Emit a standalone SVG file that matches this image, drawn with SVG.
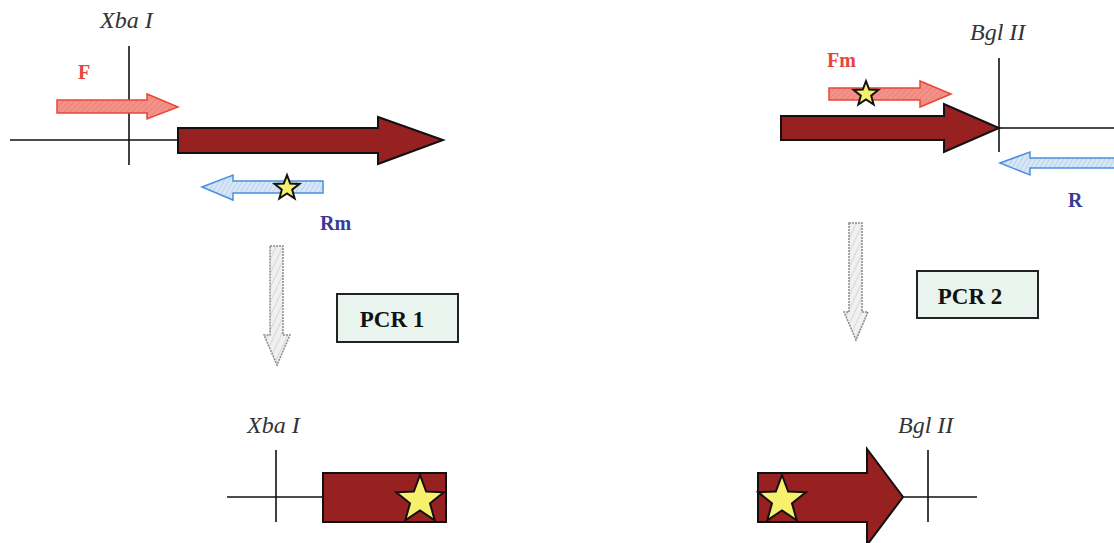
<svg xmlns="http://www.w3.org/2000/svg" width="1114" height="543" viewBox="0 0 1114 543">
<style>
.line{stroke:#111;stroke-width:1.6;fill:none}
.site{font-family:"Liberation Serif",serif;font-style:italic;font-size:24px;fill:#333}
.fwd{font-family:"Liberation Serif",serif;font-weight:bold;font-size:20px;fill:#E8453C}
.rev{font-family:"Liberation Serif",serif;font-weight:bold;font-size:20px;fill:#3A3A98}
.pcr{font-family:"Liberation Serif",serif;font-weight:bold;font-size:23px;fill:#111}
.gene{fill:#972020;stroke:#111;stroke-width:2;stroke-linejoin:miter}
.fprim{fill:url(#hatchRed);stroke:#E8473A;stroke-width:1.5}
.rprim{fill:url(#hatchBlue);stroke:#4A8FE0;stroke-width:1.5}
.down{fill:url(#hatchGrey);stroke:#8A8A8A;stroke-width:1.5;stroke-dasharray:2 1}
.box{fill:#EAF4EE;stroke:#222;stroke-width:2}
.star{fill:#F7F06C;stroke:#111}
</style>
<defs>
<pattern id="hatchRed" width="4" height="4" patternUnits="userSpaceOnUse" patternTransform="rotate(45)">
<rect width="4" height="4" fill="#F2938A"/>
<line x1="0" y1="0" x2="0" y2="4" stroke="#EC7468" stroke-width="1.2"/>
</pattern>
<pattern id="hatchBlue" width="4" height="4" patternUnits="userSpaceOnUse" patternTransform="rotate(30)">
<rect width="4" height="4" fill="#D8E7F6"/>
<line x1="0" y1="0" x2="0" y2="4" stroke="#A4C2E6" stroke-width="1.2"/>
</pattern>
<pattern id="hatchGrey" width="6" height="6" patternUnits="userSpaceOnUse" patternTransform="rotate(25)">
<rect width="6" height="6" fill="#F0F0F0"/>
<line x1="0" y1="0" x2="0" y2="6" stroke="#CFCFCF" stroke-width="1.5"/>
</pattern>
<path id="star" vector-effect="non-scaling-stroke" d="M0,-1 L0.247,-0.34 L0.951,-0.309 L0.4,0.13 L0.588,0.809 L0,0.42 L-0.588,0.809 L-0.4,0.13 L-0.951,-0.309 L-0.247,-0.34 Z"/>
</defs>
<rect width="1114" height="543" fill="#fff"/>

<g id="left-top">
<line class="line" x1="10" y1="140" x2="178" y2="140"/>
<line class="line" x1="129" y1="46" x2="129" y2="165"/>
<text class="site" x="100" y="28">Xba I</text>
</g>
<g id="primer-F">
<polygon class="fprim" points="57,100 147,100 147,94 178,107 147,119 147,113 57,113"/>
<text class="fwd" x="78" y="79">F</text>
</g>
<g id="gene-left">
<polygon class="gene" points="178,128 378,128 378,117 443,140 378,164 378,153 178,153"/>
</g>
<g id="primer-Rm">
<polygon class="rprim" points="202,187 233,175 233,181 323,181 323,193 233,193 233,200"/>
<use href="#star" class="star" stroke-width="2" transform="translate(287,188) scale(13)"/>
<text class="rev" x="320" y="230">Rm</text>
</g>

<g id="right-top">
<line class="line" x1="999" y1="128" x2="1114" y2="128"/>
<line class="line" x1="999" y1="58" x2="999" y2="152"/>
<text class="site" x="970" y="40">Bgl II</text>
</g>
<g id="primer-Fm">
<polygon class="fprim" points="829,88 920,88 920,81 951,94 920,107 920,100 829,100"/>
<use href="#star" class="star" stroke-width="2" transform="translate(866,94) scale(13)"/>
<text class="fwd" x="827" y="67">Fm</text>
</g>
<g id="gene-right">
<polygon class="gene" points="781,116 944,116 944,104 999,128 944,152 944,140 781,140"/>
</g>
<g id="primer-R">
<polygon class="rprim" points="1000,163 1030,152 1030,158 1120,158 1120,168 1030,168 1030,175"/>
<text class="rev" x="1068" y="207">R</text>
</g>

<g id="connectors">
<polygon class="down" points="270,246 283,246 283,335 290,335 277,365 264,335 270,335"/>
<polygon class="down" points="849,223 862,223 862,312 868,312 856,340 844,312 849,312"/>
</g>

<g id="pcr1">
<rect class="box" x="337" y="294" width="121" height="48"/>
<text class="pcr" x="392" y="327" text-anchor="middle">PCR 1</text>
</g>
<g id="pcr2">
<rect class="box" x="917" y="271" width="121" height="47"/>
<text class="pcr" x="970" y="304" text-anchor="middle">PCR 2</text>
</g>

<g id="product1">
<line class="line" x1="227" y1="497" x2="323" y2="497"/>
<line class="line" x1="276" y1="450" x2="276" y2="522"/>
<text class="site" x="247" y="433">Xba I</text>
<rect class="gene" x="323" y="473" width="123" height="49"/>
<use href="#star" class="star" stroke-width="2" transform="translate(420,500) scale(25)"/>
</g>

<g id="product2">
<line class="line" x1="903" y1="497" x2="977" y2="497"/>
<line class="line" x1="928" y1="450" x2="928" y2="522"/>
<text class="site" x="898" y="433">Bgl II</text>
<polygon class="gene" points="758,473 867,473 867,449 903,497 867,545 867,522 758,522"/>
<use href="#star" class="star" stroke-width="2" transform="translate(782,500) scale(25)"/>
</g>
</svg>
